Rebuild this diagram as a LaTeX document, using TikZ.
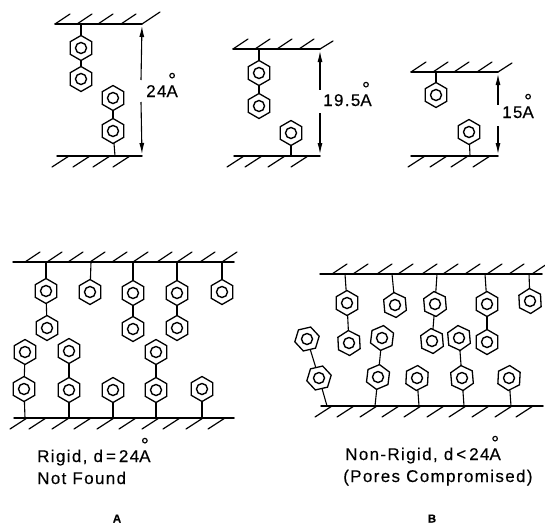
\documentclass[tikz,border=0pt]{standalone}
\usepackage{fontspec}
\setmainfont[LetterSpace=8,FakeBold=0.25]{Liberation Sans}
\usetikzlibrary{shapes.geometric,arrows.meta}
\newcommand\angs{{\setbox0\hbox{A}\rlap{\hbox to\wd0{\hss\raisebox{0.6em}{\fontsize{20}{20}\selectfont\char"00B0}\hss}}A}}
\tikzset{
  x=1pt,y=-1pt,
  wallline/.style={line width=1.5pt,line cap=round},
  hatchline/.style={line width=1.2pt,line cap=round},
  stem/.style={line width=1.1pt},
  hexn/.style={draw,line width=1.3pt,regular polygon,regular polygon sides=6,minimum size=25pt,inner sep=0pt,outer sep=0pt},
  ringn/.style={draw,line width=1.4pt,circle,minimum size=11pt,inner sep=0pt,outer sep=0pt},
  dimline/.style={line width=1.1pt,shorten <=2pt,{Latex[length=11pt,width=5pt]}-},
  lab/.style={anchor=base west,inner sep=0pt,font=\fontsize{17}{19}\selectfont},
  captxt/.style={anchor=base,inner sep=0pt,font=\fontsize{11.5}{13}\selectfont\bfseries}
}
% \hx{name}{x}{y}{tilt}
\newcommand\hx[4]{\node[hexn,shape border rotate=30+#4] (#1) at (#2,#3) {};\node[ringn] (#1r) at (#1) {};}
\newcommand\hup[2]{\foreach \q in {#1} \draw[hatchline] (\q,#2) -- ++(15,-10);}
\newcommand\hdn[2]{\foreach \q in {#1} \draw[hatchline] (\q,#2+11) -- ++(17,-11);}
\begin{document}
\begin{tikzpicture}
\useasboundingbox (0,0) rectangle (545,525);
% Panel 1
\coordinate (a1) at (55,24); \coordinate (a2) at (142,24);
\coordinate (a3) at (57,156); \coordinate (a4) at (142,156);
\draw[wallline] (a1) -- (a2); \draw[wallline] (a3) -- (a4);
\hup{55,77,98,121}{24} \draw[hatchline] (a2) -- ++(18,-12);
\hdn{52,73,93,113}{156}
\hx{p1}{81}{48}{0} \hx{p2}{81}{79}{0} \hx{p3}{113}{98}{0} \hx{p4}{113}{131}{0}
\coordinate (s1) at (81,24); \coordinate (s2) at (115,156);
\draw[stem] (s1) -- (p1); \draw[stem] (p1) -- (p2); \draw[stem] (p3) -- (p4); \draw[stem] (p4) -- (s2);
\coordinate (g1) at (141,80); \coordinate (g2) at (141,102);
\draw[dimline] (a2) -- (g1); \draw[dimline] (a4) -- (g2);
\node[lab] (t1) at (146,97) {24\angs};
% Panel 2
\coordinate (b1) at (233,49); \coordinate (b2) at (320,49);
\coordinate (b3) at (234,156); \coordinate (b4) at (320,156);
\draw[wallline] (b1) -- (b2); \draw[wallline] (b3) -- (b4);
\hup{233,255,277,299}{49} \draw[hatchline] (b2) -- ++(13,-8);
\hdn{227,245,268,291}{156}
\hx{q1}{259}{73}{0} \hx{q2}{259}{106}{0} \hx{q3}{291}{133}{0}
\coordinate (s3) at (259,49); \coordinate (s4) at (291,156);
\draw[stem] (s3) -- (q1); \draw[stem] (q1) -- (q2); \draw[stem] (q3) -- (s4);
\coordinate (g3) at (320,90); \coordinate (g4) at (320,113);
\draw[dimline] (b2) -- (g3); \draw[dimline] (b4) -- (g4);
\node[lab] (t2) at (323,106) {19.5\angs};
% Panel 3
\coordinate (c1) at (411,72); \coordinate (c2) at (498,72);
\coordinate (c3) at (411,156); \coordinate (c4) at (498,156);
\draw[wallline] (c1) -- (c2); \draw[wallline] (c3) -- (c4);
\hup{411,433,454,477}{72} \draw[hatchline] (c2) -- ++(14,-9);
\hdn{408,430,451,473}{156}
\hx{r1}{436}{95}{0} \hx{r2}{469}{132}{0}
\coordinate (s5) at (436,72); \coordinate (s6) at (470,156);
\draw[stem] (s5) -- (r1); \draw[stem] (r2) -- (s6);
\coordinate (g5) at (498,105); \coordinate (g6) at (498,126);
\draw[dimline] (c2) -- (g5); \draw[dimline] (c4) -- (g6);
\node[lab] (t3) at (502,118) {15\angs};
% Panel A
\coordinate (d1) at (13,262); \coordinate (d2) at (234,262);
\coordinate (d3) at (14,418); \coordinate (d4) at (234,418);
\draw[wallline] (d1) -- (d2); \draw[wallline] (d3) -- (d4);
\hup{25,47,68,90,112,133,157,177,200,222}{262}
\hdn{10,29,52,74,97,119,142,163,186,208}{418}
\hx{a}{46}{291}{0} \hx{b}{90}{292}{0} \hx{c}{133}{293}{0} \hx{d}{177}{293}{0} \hx{e}{222}{292}{0}
\hx{f}{47}{328}{0} \hx{g}{133}{329}{0} \hx{h}{177}{328}{0}
\hx{i}{25}{352}{0} \hx{j}{69}{351}{0} \hx{k}{156}{352}{0}
\hx{l}{24}{389}{0} \hx{m}{69}{390}{0} \hx{n}{113}{390}{0} \hx{o}{156}{390}{0} \hx{u}{202}{389}{0}
\foreach \n/\p in {a/46,b/91,c/133,d/177,e/222} {\coordinate (w\n) at (\p,262); \draw[stem] (w\n) -- (\n);}
\foreach \n/\p in {l/25,m/69,n/113,o/156,u/202} {\coordinate (w\n) at (\p,418); \draw[stem] (w\n) -- (\n);}
\foreach \s/\e in {a/f,c/g,d/h,i/l,j/m,k/o} \draw[stem] (\s) -- (\e);
\node[lab] (t4) at (37,462) {Rigid, d\hspace{3pt}=\hspace{3pt}24\angs};
\node[lab] (t5) at (37,484) {Not Found};
\node[captxt] (t6) at (117,522.5) {A};
% Panel B
\coordinate (e1) at (320,274); \coordinate (e2) at (542,274);
\coordinate (e3) at (321,406); \coordinate (e4) at (543,406);
\draw[wallline] (e1) -- (e2); \draw[wallline] (e3) -- (e4);
\hup{332,353,377,398,422,443,465,487,509,532}{274}
\hdn{315,337,360,382,404,427,449,472,495,516}{406}
\hx{ba}{347}{303}{0} \hx{bb}{395}{305}{5} \hx{bc}{435}{304}{5} \hx{bd}{487}{304}{0} \hx{be}{530}{301}{3}
\hx{bf}{349}{343}{3} \hx{bg}{432}{341}{5} \hx{bh}{487}{342}{0}
\hx{bi}{307}{339}{-17} \hx{bj}{382}{338}{-7} \hx{bk}{459}{338}{5}
\hx{bl}{319}{378}{-17} \hx{bm}{378}{377}{-7} \hx{bn}{417}{378}{-3} \hx{bo}{462}{378}{5} \hx{bp}{509}{378}{-3}
\foreach \n/\p in {ba/345,bb/392,bc/437,bd/485,be/529} {\coordinate (w\n) at (\p,274); \draw[stem] (w\n) -- (\n);}
\foreach \n/\p in {bl/327,bm/375,bn/419,bo/464,bp/511} {\coordinate (w\n) at (\p,406); \draw[stem] (w\n) -- (\n);}
\foreach \s/\e in {ba/bf,bc/bg,bd/bh,bi/bl,bj/bm,bk/bo} \draw[stem] (\s) -- (\e);
\node[lab] (t7) at (345,460) {Non-Rigid, d\hspace{3pt}<\hspace{3pt}24\angs};
\node[lab] (t8) at (343,482) {(Pores Compromised)};
\node[captxt] (t9) at (432,522.5) {B};
\end{tikzpicture}
\end{document}
